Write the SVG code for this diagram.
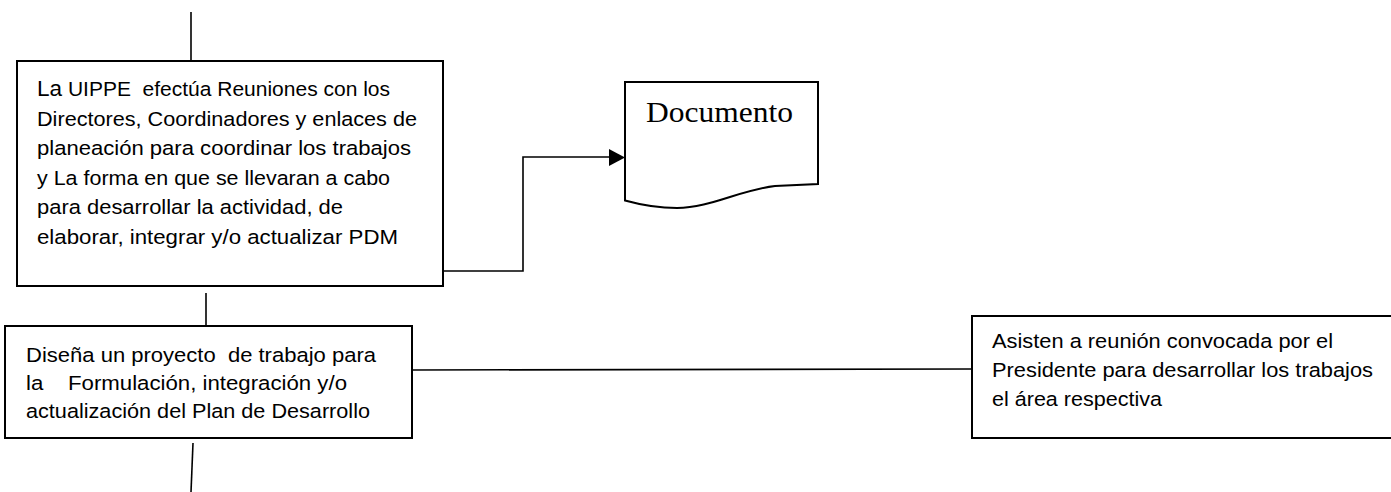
<svg xmlns="http://www.w3.org/2000/svg" width="1391" height="492" viewBox="0 0 1391 492">
<defs>
<style>
.box{fill:#fff;stroke:#000;stroke-width:2}
.ln{fill:none;stroke:#000;stroke-width:1.6}
.t{font-family:"Liberation Sans",Arial,sans-serif;font-size:20.5px;fill:#000;white-space:pre}
.doc{font-family:"Liberation Serif","Times New Roman",serif;font-size:30px;fill:#000}
</style>
</defs>
<rect width="1391" height="492" fill="#fff"/>
<g id="connectors">
<line class="ln" x1="191" y1="12" x2="191" y2="62"/>
<line class="ln" x1="206" y1="293" x2="206" y2="327"/>
<line class="ln" x1="193" y1="443" x2="191" y2="492"/>
<line class="ln" x1="412" y1="370" x2="972" y2="369"/>
<path class="ln" d="M443,271 H523 V157 H609"/>
<path d="M609,149 L625,157.5 L609,166 Z" fill="#000"/>
</g>
<g id="node-uippe">
<rect class="box" x="17" y="61" width="426" height="225"/>
<text class="t" x="37" y="96" textLength="353" lengthAdjust="spacingAndGlyphs" xml:space="preserve"><tspan font-size="22">La</tspan> UIPPE  efectúa Reuniones con los</text>
<text class="t" x="37" y="125.6" textLength="380" lengthAdjust="spacingAndGlyphs">Directores, Coordinadores y enlaces de</text>
<text class="t" x="37" y="155.2" textLength="374" lengthAdjust="spacingAndGlyphs">planeación para coordinar los trabajos</text>
<text class="t" x="37" y="184.8" textLength="353" lengthAdjust="spacingAndGlyphs">y La forma en que se llevaran a cabo</text>
<text class="t" x="37" y="214.4" textLength="306" lengthAdjust="spacingAndGlyphs">para desarrollar la actividad, de</text>
<text class="t" x="37" y="244" textLength="361" lengthAdjust="spacingAndGlyphs">elaborar, integrar y/o actualizar PDM</text>
</g>
<g id="node-documento">
<path class="box" d="M625,82 H818 V184 L775,186 C740,190 710,208 677,208 C660,208 645,206 625,200.5 Z"/>
<text class="doc" x="646" y="121.5" textLength="147" lengthAdjust="spacingAndGlyphs">Documento</text>
</g>
<g id="node-disena">
<rect class="box" x="5" y="326" width="407" height="112"/>
<text class="t" x="26" y="361.5" textLength="350" lengthAdjust="spacingAndGlyphs" xml:space="preserve">Diseña un proyecto  de trabajo para</text>
<text class="t" x="26" y="389.5" textLength="321" lengthAdjust="spacingAndGlyphs" xml:space="preserve">la    Formulación, integración y/o</text>
<text class="t" x="26" y="417.5" textLength="344" lengthAdjust="spacingAndGlyphs">actualización del Plan de Desarrollo</text>
</g>
<g id="node-asisten">
<rect class="box" x="972" y="316" width="430" height="122"/>
<text class="t" x="992" y="348" textLength="341" lengthAdjust="spacingAndGlyphs">Asisten a reunión convocada por el</text>
<text class="t" x="992" y="377" textLength="381" lengthAdjust="spacingAndGlyphs">Presidente para desarrollar los trabajos</text>
<text class="t" x="992" y="406" textLength="170" lengthAdjust="spacingAndGlyphs">el área respectiva</text>
</g>
</svg>
